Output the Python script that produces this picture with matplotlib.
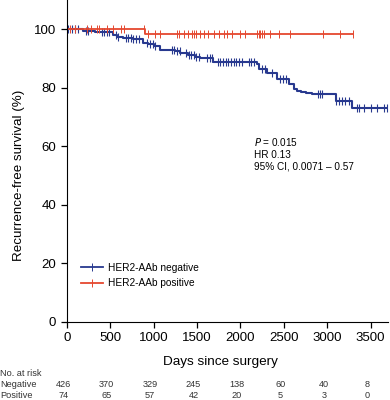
import numpy as np
import matplotlib
matplotlib.use('Agg')
from matplotlib import pyplot as plt

plt.rcParams['font.family'] = ['Liberation Sans', 'DejaVu Sans']

blue = '#28398f'
red = '#e5482f'

# Kaplan-Meier steps (days, survival %)
neg_times = [0, 188, 325, 537, 580, 652, 760, 883, 940, 1000, 1077, 1250, 1300,
             1400, 1480, 1538, 1690, 2192, 2210, 2310, 2425, 2555, 2612, 2650,
             2700, 2760, 2820, 2865, 3095, 3290, 3690]
neg_surv = [100, 99.5, 98.9, 97.9, 97.3, 96.9, 96.5, 95.4, 95.0, 94.3, 92.9, 92.6,
            92.0, 91.3, 90.6, 90.0, 88.8, 88.0, 86.3, 85.0, 82.9, 81.1, 79.4, 79.0,
            78.6, 78.2, 77.9, 77.7, 75.6, 73.0, 73.0]
neg_censor = [19, 57, 96, 134, 222, 250, 403, 430, 461, 492, 569, 595, 684, 710,
              738, 768, 799, 830, 930, 960, 992, 1022, 1211, 1238, 1269, 1299,
              1376, 1403, 1430, 1461, 1491, 1522, 1615, 1645, 1676, 1737, 1768,
              1799, 1829, 1860, 1891, 1922, 1953, 1984, 2014, 2095, 2122, 2153,
              2249, 2287, 2364, 2460, 2491, 2522, 2891, 2914, 2937, 3095, 3133,
              3171, 3210, 3248, 3337, 3364, 3422, 3498, 3576, 3652, 3690]

pos_times = [0, 900, 3295]
pos_surv = [100, 98.5, 98.5]
pos_censor = [38, 96, 238, 277, 346, 369, 461, 531, 623, 661, 895, 941, 1018,
              1076, 1269, 1292, 1345, 1391, 1442, 1468, 1491, 1537, 1576, 1622,
              1691, 1749, 1806, 1845, 1903, 1999, 2057, 2191, 2210, 2230, 2249,
              2268, 2345, 2441, 2576, 2953, 3144, 3295]

risk_days = [0, 500, 1000, 1500, 2000, 2500, 3000, 3500]
risk_neg = [426, 370, 329, 245, 138, 60, 40, 8]
risk_pos = [74, 65, 57, 42, 20, 5, 3, 0]


def surv_at(times, surv, t):
    i = np.searchsorted(times, t, side='right') - 1
    return np.array(surv)[i]


fig = plt.figure(figsize=(3.9, 4.0), dpi=100)
ax = fig.add_axes([0.171, 0.196, 0.824, 0.804])

ax.plot(neg_times, neg_surv, drawstyle='steps-post', color=blue, lw=1.5)
ax.plot(neg_censor, surv_at(neg_times, neg_surv, neg_censor), ls='none',
        marker='|', ms=6, mew=0.8, color=blue)
ax.plot(pos_times, pos_surv, drawstyle='steps-post', color=red, lw=1.3)
ax.plot(pos_censor, surv_at(pos_times, pos_surv, pos_censor), ls='none',
        marker='|', ms=6, mew=0.7, color=red)

# legend handles
ax.plot([], [], color=blue, lw=1.3, marker='|', ms=6, mew=0.7,
        label='HER2-AAb negative')
ax.plot([], [], color=red, lw=1.3, marker='|', ms=6, mew=0.7,
        label='HER2-AAb positive')
handles, labels = ax.get_legend_handles_labels()
ax.legend(handles, labels, loc='lower left', bbox_to_anchor=(0.015, 0.075),
          frameon=False, fontsize=7.3, handlelength=2.2, handletextpad=0.5,
          labelspacing=0.55)

ax.set_xlim(0, 3700)
ax.set_ylim(0, 110)
ax.set_xticks(range(0, 3501, 500))
ax.set_yticks(range(0, 101, 20))
ax.spines['top'].set_visible(False)
ax.spines['right'].set_visible(False)
ax.tick_params(labelsize=9.5, length=4, width=0.9, direction='out')
ax.set_xlabel('Days since surgery', fontsize=9.7)
ax.set_ylabel('Recurrence-free survival (%)', fontsize=9.6)
ax.xaxis.set_label_coords(0.478, -0.108)
ax.yaxis.set_label_coords(-0.13, 0.456)

ax.text(0.584, 0.578, '$P$ = 0.015\nHR 0.13\n95% CI, 0.0071 \u2013 0.57',
        transform=ax.transAxes, fontsize=7.2, va='top', linespacing=1.25)

# number at risk table
tr = matplotlib.transforms.blended_transform_factory(ax.transData, fig.transFigure)
fig.text(0.0, 1 - 374 / 400, 'No. at risk', fontsize=6.6, color='#333333', va='center')
fig.text(0.0, 1 - 384.5 / 400, 'Negative', fontsize=6.6, color='#333333', va='center')
fig.text(0.0, 1 - 395.5 / 400, 'Positive', fontsize=6.6, color='#333333', va='center')
for d, n, p in zip(risk_days, risk_neg, risk_pos):
    ax.text(d - 40, 1 - 384.5 / 400, str(n), transform=tr, fontsize=6.6,
            color='#333333', ha='center', va='center')
    ax.text(d - 40, 1 - 395.5 / 400, str(p), transform=tr, fontsize=6.6,
            color='#333333', ha='center', va='center')

fig.savefig('out.png', dpi=100)
